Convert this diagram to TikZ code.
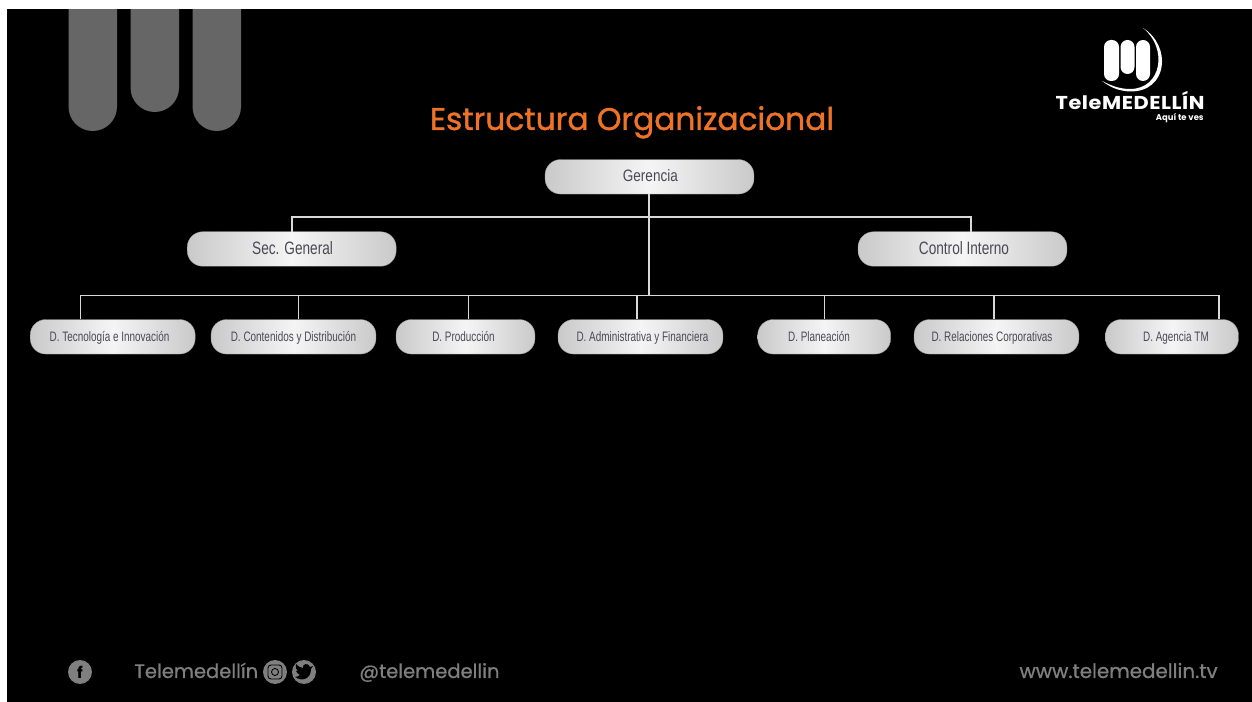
\documentclass[tikz,border=0pt]{standalone}
\usepackage{fontspec}
\setmainfont{Poppins}
\newfontfamily\boxfont[FakeStretch=0.82]{Liberation Sans}
\newfontfamily\midfont[FakeStretch=0.76]{Liberation Sans}
\newfontfamily\smallfont[FakeStretch=0.725]{Liberation Sans}
\newfontfamily\medfont[FakeBold=1.2]{Poppins}
\newfontfamily\footfont[FakeBold=0.8]{Poppins}
\newfontfamily\logofont[LetterSpace=3,FakeStretch=1.12]{Poppins}
\definecolor{titleorange}{HTML}{EE7326}
\definecolor{bargray}{HTML}{666666}
\definecolor{footgray}{HTML}{7F7F7F}
\definecolor{boxtext}{HTML}{4A4A55}
\tikzset{
  box/.style={rounded corners=0.31cm, minimum height=0.69cm, inner sep=0pt, text height=7pt, text depth=1.34pt, left color=black!21, right color=black!21, middle color=black!4, draw=black!40, line width=0.2pt, text=boxtext},
  bigbox/.style={box, minimum width=4.18cm, font=\boxfont\fontsize{9.4}{9.4}\selectfont},
  midbox/.style={box, minimum width=4.18cm, text height=8pt, text depth=1.6pt, font=\midfont\fontsize{10.2}{10.2}\selectfont},
  smallbox/.style={box, font=\smallfont\fontsize{7.8}{8}\selectfont},
  link/.style={draw=white!85!black, line width=0.7pt},
  foot/.style={text=footgray, inner sep=0pt, anchor=base west, font=\footfont\fontsize{11.1}{12}\selectfont}
}
\begin{document}
\begin{tikzpicture}[x=0.02cm,y=-0.02cm]
      \useasboundingbox (0,0) rectangle (1252,702);
      \fill [white] (0,0) rectangle (1252,702);
      \fill [black] (7,9) rectangle (1252,702);
      % bars top left
      \fill [bargray, rounded corners=0.485cm] (68.5,-40) rectangle (117,131);
      \fill [bargray, rounded corners=0.485cm] (130.5,-40) rectangle (179,112);
      \fill [bargray, rounded corners=0.485cm] (192.5,-40) rectangle (241,131);
      \fill [white] (0,-41) rectangle (1252,9);
      % logo
      \fill [white, rounded corners=0.14cm] (1104,40) rectangle (1119,81);
      \fill [white, rounded corners=0.14cm] (1120.5,40) rectangle (1134.5,74);
      \fill [white, rounded corners=0.14cm] (1136,40) rectangle (1150,81);
      \fill [white] (1143,28) .. controls (1172,46) and (1168,92) .. (1130,91.5) .. controls (1118,91) and (1110,87) .. (1102,81) .. controls (1112,86) and (1120,89) .. (1130,89) .. controls (1162,89) and (1168,48) .. (1143,28);
      \node (logo) [anchor=base east, inner sep=0pt, text=white, font=\logofont\bfseries\fontsize{10.6}{12}\selectfont] at (1205,110) {TeleMEDELLÍN};
      \node (lema) [anchor=base east, inner sep=0pt, text=white, font=\bfseries\fontsize{4.8}{5}\selectfont] at (1204,120.5) {Aquí te ves};
      \node (titulo) [anchor=base, inner sep=0pt, text=titleorange, font=\medfont\fontsize{17.8}{18}\selectfont] at (632,130) {Estructura Organizacional};
      \node (gerencia) [bigbox] at (649.5,176.8) {\kern1pt Gerencia};
      \node (sec) [midbox] at (291.7,249) {\kern1pt Sec. General};
      \node (control) [midbox] at (962.5,249) {\kern1.7pt Control Interno};
      \node (tec) [smallbox, minimum width=3.3cm] at (112.7,336.8) {D. Tecnología e Innovación\kern3.6pt};
      \node (cont) [smallbox, minimum width=3.3cm] at (293.5,336.8) {D. Contenidos y Distribución};
      \node (prod) [smallbox, minimum width=2.78cm] at (465.5,336.8) {D. Producción\kern2.3pt};
      \node (adm) [smallbox, minimum width=3.3cm] at (640.5,336.8) {\kern2.3pt D. Administrativa y Financiera};
      \node (plan) [smallbox, minimum width=2.66cm] at (824.2,336.8) {D. Planeación\kern5.9pt};
      \node (rel) [smallbox, minimum width=3.3cm] at (996.5,336.8) {D. Relaciones Corporativas\kern5.1pt};
      \node (ag) [smallbox, minimum width=2.66cm] at (1172,336.8) {\kern4.5pt D. Agencia TM};
      \coordinate (top1) at (292,217);
      \coordinate (top2) at (971,217);
      \coordinate (bus0) at (649,295.5);
      \coordinate (bus1) at (80.5,295.5);
      \coordinate (bus2) at (298.5,295.5);
      \coordinate (bus3) at (468.5,295.5);
      \coordinate (bus4) at (637,295.5);
      \coordinate (bus5) at (824.5,295.5);
      \coordinate (bus6) at (994,295.5);
      \coordinate (bus7) at (1219,295.5);
      \draw [link] (gerencia.south -| bus0) -- (bus0);
      \draw [link] (sec.north -| top1) -- (top1) -- (top2) -- (control.north -| top2);
      \draw [link] (tec.north -| bus1) -- (bus1) -- (bus7) -- (ag.north -| bus7);
      \draw [link] (bus2) -- (cont.north -| bus2);
      \draw [link] (bus3) -- (prod.north -| bus3);
      \draw [link] (bus4) -- (adm.north -| bus4);
      \draw [link] (bus5) -- (plan.north -| bus5);
      \draw [link] (bus6) -- (rel.north -| bus6);
      % footer
      \fill [footgray] (80,672) circle (12);
      \node (fb) [text=black, inner sep=0pt, font=\bfseries\fontsize{9}{9}\selectfont] at (80,672) {f};
      \node (usuario) [foot] at (134,678) {Telemedellín};
      \fill [footgray] (275,672) circle (12);
      \draw [black, line width=0.5pt, rounded corners=0.06cm] (268,665) rectangle (282,679);
      \draw [black, line width=0.5pt] (275,672) circle (3.5);
      \fill [footgray] (304,672) circle (12);
      \fill [black] (295,677) .. controls (302,682) and (311,679) .. (311,669) -- (313,666) -- (310,667) .. controls (308,662) and (302,664) .. (303,668) .. controls (300,668) and (298,666) .. (296,664) .. controls (295,667) and (296,670) .. (298,671) -- (296,671) .. controls (297,673) and (298,674) .. (300,675) .. controls (299,676) and (297,677) .. (295,677);
      \node (arroba) [foot] at (359,678) {@telemedellin};
      \node (web) [foot, anchor=base east, font=\footfont\fontsize{11.3}{12}\selectfont] at (1218,678) {www.telemedellin.tv};
    \end{tikzpicture}
\end{document}
